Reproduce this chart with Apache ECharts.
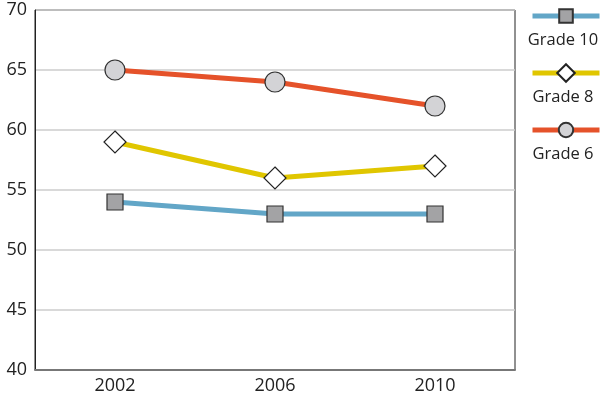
<!DOCTYPE html>
<html>
<head>
<meta charset="utf-8">
<script src="https://cdn.jsdelivr.net/npm/echarts@6/dist/echarts.min.js"></script>
<style>
  html, body { margin: 0; padding: 0; background: #fff; }
  #chart { width: 600px; height: 399px; }
</style>
</head>
<body>
<div id="chart"></div>
<script>
var years = ['2002', '2006', '2010']
var grade10 = [54, 53, 53]
var grade8 = [59, 56, 57]
var grade6 = [65, 64, 62]
var seriesNames = ['Grade 10', 'Grade 8', 'Grade 6']

var chart = echarts.init(document.getElementById('chart'))
var font = '"Open Sans", "DejaVu Sans", sans-serif'

// legend icon centre lines, labels go underneath
var legendMid = [16, 73, 130]
var legendIcon = [17, 22, 18]
var legends = seriesNames.map(function (n, i) {
  return {
    left: 530,
    top: legendMid[i] - legendIcon[i] / 2,
    itemWidth: 67,
    itemHeight: legendIcon[i],
    padding: 0,
    lineStyle: { width: 5 },
    formatter: function () { return '' },
    textStyle: { fontSize: 1, padding: 0 },
    data: [n]
  }
})
var labels = seriesNames.map(function (n, i) {
  return {
    type: 'text',
    x: 563,
    y: legendMid[i] + 24,
    style: {
      text: n,
      textAlign: 'center',
      textVerticalAlign: 'middle',
      fontSize: 16.5,
      fontFamily: font,
      fill: '#222'
    }
  }
})

chart.setOption({
  animation: false,
  grid: {
    left: 35,
    right: 85,
    top: 10,
    bottom: 29,
    show: true,
    borderColor: '#222',
    borderWidth: 1
  },
  legend: legends,
  graphic: labels,
  xAxis: {
    type: 'category',
    data: years,
    boundaryGap: true,
    axisTick: { show: false },
    axisLine: { show: true, lineStyle: { color: '#777', width: 2 } },
    axisLabel: { color: '#222', fontSize: 18, fontFamily: font, margin: 7 }
  },
  yAxis: {
    type: 'value',
    min: 40,
    max: 70,
    interval: 5,
    axisTick: { show: false },
    axisLine: { show: true, lineStyle: { color: '#222', width: 1 } },
    axisLabel: { color: '#222', fontSize: 18, fontFamily: font, margin: 8 },
    splitLine: { show: true, lineStyle: { color: '#ccc', width: 1.5 } }
  },
  series: [{
    name: 'Grade 10',
    type: 'line',
    data: grade10,
    symbol: 'rect',
    symbolSize: 16,
    lineStyle: { color: '#62a6c7', width: 5 },
    itemStyle: { color: '#a3a3a5', borderColor: '#333', borderWidth: 1.2 },
    z: 3
  }, {
    name: 'Grade 8',
    type: 'line',
    data: grade8,
    symbol: 'diamond',
    symbolSize: 22,
    lineStyle: { color: '#e0c600', width: 5 },
    itemStyle: { color: '#fff', borderColor: '#222', borderWidth: 1.2 },
    z: 4
  }, {
    name: 'Grade 6',
    type: 'line',
    data: grade6,
    symbol: 'circle',
    symbolSize: 20,
    lineStyle: { color: '#e5522a', width: 5 },
    itemStyle: { color: '#d3d3d6', borderColor: '#333', borderWidth: 1.2 },
    z: 5
  }]
})
</script>
</body>
</html>
